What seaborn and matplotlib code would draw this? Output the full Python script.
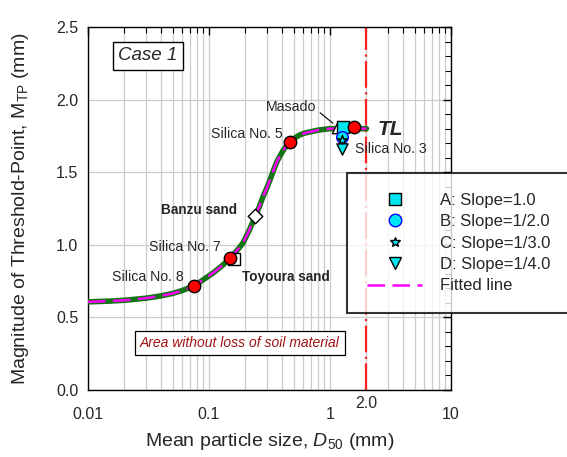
import numpy as np
import pandas as pd
import matplotlib
matplotlib.use("Agg")
import matplotlib.pyplot as plt
from matplotlib.lines import Line2D
from matplotlib.ticker import LogLocator, FixedLocator, MultipleLocator, NullFormatter
import seaborn as sns

# ---------------- data ----------------
curve_x = [0.01, 0.015, 0.02, 0.03, 0.04, 0.05, 0.06, 0.075, 0.09, 0.108, 0.13, 0.149,
           0.17, 0.191, 0.215, 0.24, 0.26, 0.279, 0.3, 0.319, 0.34, 0.363, 0.385, 0.41,
           0.44, 0.467, 0.51, 0.56, 0.62, 0.68, 0.8, 1.0, 1.3, 1.6, 2.0]
curve_y = [0.607, 0.612, 0.618, 0.632, 0.648, 0.665, 0.685, 0.716, 0.76, 0.806, 0.86, 0.909,
           0.96, 1.012, 1.10, 1.19, 1.26, 1.33, 1.39, 1.446, 1.51, 1.57, 1.61, 1.65,
           1.685, 1.71, 1.735, 1.756, 1.77, 1.777, 1.79, 1.80, 1.80, 1.80, 1.80]

silica_names = ["Silica No. 8", "Silica No. 7", "Silica No. 5", "Silica No. 3"]
silica_x = [0.075, 0.149, 0.467, 1.58]
silica_y = [0.716, 0.909, 1.71, 1.81]

toyoura_x, toyoura_y = [0.16], [0.90]
banzu_x, banzu_y = [0.24], [1.20]
masado_x, masado_y = [1.16], [1.81]

slope_labels = ["A: Slope=1.0", "B: Slope=1/2.0", "C: Slope=1/3.0", "D: Slope=1/4.0"]
slope_x = [1.27, 1.26, 1.26, 1.26]
slope_y = [1.81, 1.74, 1.72, 1.66]

TL_x = 2.0
xticks = [0.01, 0.1, 1, 10]
xtick_labels = ["0.01", "0.1", "1", "10"]
yticks = [0.0, 0.5, 1.0, 1.5, 2.0, 2.5]

# ---------------- style ----------------
sns.set_style("white")
plt.rcParams['font.family'] = ['Liberation Sans', 'DejaVu Sans']
plt.rcParams['mathtext.fontset'] = 'custom'
plt.rcParams['mathtext.rm'] = 'Liberation Sans'
plt.rcParams['mathtext.it'] = 'Liberation Sans:italic'

fig = plt.figure(figsize=(5.67, 4.57), dpi=100)
ax = fig.add_axes([88/567, 1-390/457, (451-88)/567, (390-27)/457])

ax.set_xscale("log")
ax.set_xlim(0.01, 10)
ax.set_ylim(0, 2.5)

# grid
ax.xaxis.set_major_locator(FixedLocator(xticks))
ax.xaxis.set_minor_locator(LogLocator(base=10, subs=np.arange(2, 10)))
ax.xaxis.set_minor_formatter(NullFormatter())
ax.set_xticklabels(xtick_labels)
ax.yaxis.set_major_locator(FixedLocator(yticks))
ax.yaxis.set_minor_locator(MultipleLocator(0.1))
ax.set_yticklabels([f"{v:.1f}" for v in yticks])
ax.grid(True, which="major", axis="both", color="#cccccc", lw=0.9, zorder=0)
ax.grid(True, which="minor", axis="x", color="#cccccc", lw=0.9, zorder=0)
ax.set_axisbelow(True)

ax.tick_params(which="both", direction="in", top=True, right=True, labelsize=11.5, color="black")
ax.tick_params(which="major", length=6, width=1)
ax.tick_params(which="minor", length=4, width=0.8)
ax.tick_params(axis="x", which="major", pad=12)
ax.tick_params(axis="y", which="major", pad=7)
for s in ax.spines.values():
    s.set_color("black")
    s.set_linewidth(1.0)

# TL line
ax.axvline(TL_x, color="#ff2020", lw=1.6, dashes=(12, 2, 1, 2), zorder=2)

# fitted curve
cdf = pd.DataFrame({"x": curve_x, "y": curve_y})
sns.lineplot(data=cdf, x="x", y="y", ax=ax, color="#157515", lw=4.0, zorder=3,
             estimator=None, sort=False, legend=False)
sns.lineplot(data=cdf, x="x", y="y", ax=ax, color="#ff00ff", lw=1.8, zorder=4,
             estimator=None, sort=False, legend=False)
ax.lines[-1].set_dashes((7, 3))

# points
sns.scatterplot(x=toyoura_x, y=toyoura_y, ax=ax, marker="s", s=70, color="white",
                edgecolor="black", linewidth=1.0, zorder=5, legend=False)
sns.scatterplot(x=banzu_x, y=banzu_y, ax=ax, marker="D", s=55, color="white",
                edgecolor="black", linewidth=1.0, zorder=5, legend=False)
sns.scatterplot(x=masado_x, y=masado_y, ax=ax, marker="^", s=80, color="white",
                edgecolor="black", linewidth=1.0, zorder=5, legend=False)
sns.scatterplot(x=silica_x, y=silica_y, ax=ax, marker="o", s=80, color="#ff0000",
                edgecolor="black", linewidth=1.0, zorder=6, legend=False)

slope_markers = ["s", "o", "*", "v"]
slope_edges = ["black", "blue", "black", "black"]
slope_sizes = [65, 70, 55, 65]
for xx, yy, m, ec, ss in zip(slope_x, slope_y, slope_markers, slope_edges, slope_sizes):
    sns.scatterplot(x=[xx], y=[yy], ax=ax, marker=m, s=ss, color="#00e5ee",
                    edgecolor=ec, linewidth=1.0, zorder=5, legend=False)
ax.set_xlabel("")
ax.set_ylabel("")

# ---------------- texts ----------------
def p2d(px, py):
    return 10 ** ((px - 88) / 121.0 - 2), (390 - py) / 145.2

fs = 10.2
ax.text(*p2d(148, 56), "Case 1", fontsize=13.5, style="italic", ha="center", va="center",
        bbox=dict(boxstyle="square,pad=0.3", fc="white", ec="black", lw=1.0), zorder=7)
ax.text(*p2d(291, 107), "Masado", fontsize=fs, ha="center", va="center", zorder=7)
ax.annotate("", xy=p2d(335, 125), xytext=p2d(318, 111),
            arrowprops=dict(arrowstyle="-", color="black", lw=0.8), zorder=7)
ax.text(*p2d(283, 134), "Silica No. 5", fontsize=fs, ha="right", va="center", zorder=7)
ax.text(*p2d(378, 130), "TL", fontsize=15, weight="bold", style="italic", ha="left",
        va="center", zorder=7)
ax.text(*p2d(355, 149), "Silica No. 3", fontsize=fs, ha="left", va="center", zorder=7)
ax.text(*p2d(199, 210), "Banzu sand", fontsize=9.8, weight="bold", ha="center", va="center", zorder=7)
ax.text(*p2d(185, 247), "Silica No. 7", fontsize=fs, ha="center", va="center", zorder=7)
ax.text(*p2d(148, 277), "Silica No. 8", fontsize=fs, ha="center", va="center", zorder=7)
ax.text(*p2d(286, 277), "Toyoura sand", fontsize=9.8, weight="bold", ha="center", va="center", zorder=7)
ax.text(*p2d(240, 343), "Area without loss of soil material", fontsize=10, style="italic",
        color="#a01010", ha="center", va="center", zorder=7,
        bbox=dict(boxstyle="square,pad=0.35", fc="white", ec="black", lw=0.9))
ax.text(TL_x, -0.095, "2.0", fontsize=11.5, ha="center", va="center", transform=ax.transData)

ax.set_xlabel(r"Mean particle size, $\mathit{D}_{\mathit{50}}$ (mm)", fontsize=14, labelpad=7)
ax.set_ylabel(r"Magnitude of Threshold-Point, M$_{\mathrm{TP}}$ (mm)", fontsize=14, labelpad=18)

# ---------------- legend ----------------
handles = []
for lab, m, ec, ms in zip(slope_labels, slope_markers, slope_edges, [9, 9, 7.5, 8.5]):
    handles.append(Line2D([], [], ls="none", marker=m, markersize=ms, markerfacecolor="#00e5ee",
                          markeredgecolor=ec, markeredgewidth=1.0, label=lab))
handles.append(Line2D([], [], color="#ff00ff", lw=1.8, dashes=(7, 3), label="Fitted line"))
leg = fig.legend(handles=handles, loc="upper left",
                 bbox_to_anchor=(347/567, 0, 240/567, 1-173/457), mode="expand",
                 frameon=True, fancybox=False, fontsize=12, handlelength=3.3,
                 borderpad=1.2, labelspacing=0.38, handletextpad=1.1, borderaxespad=0)
leg.get_frame().set_edgecolor("black")
leg.get_frame().set_linewidth(1.5)

fig.savefig("out.png", dpi=100)
